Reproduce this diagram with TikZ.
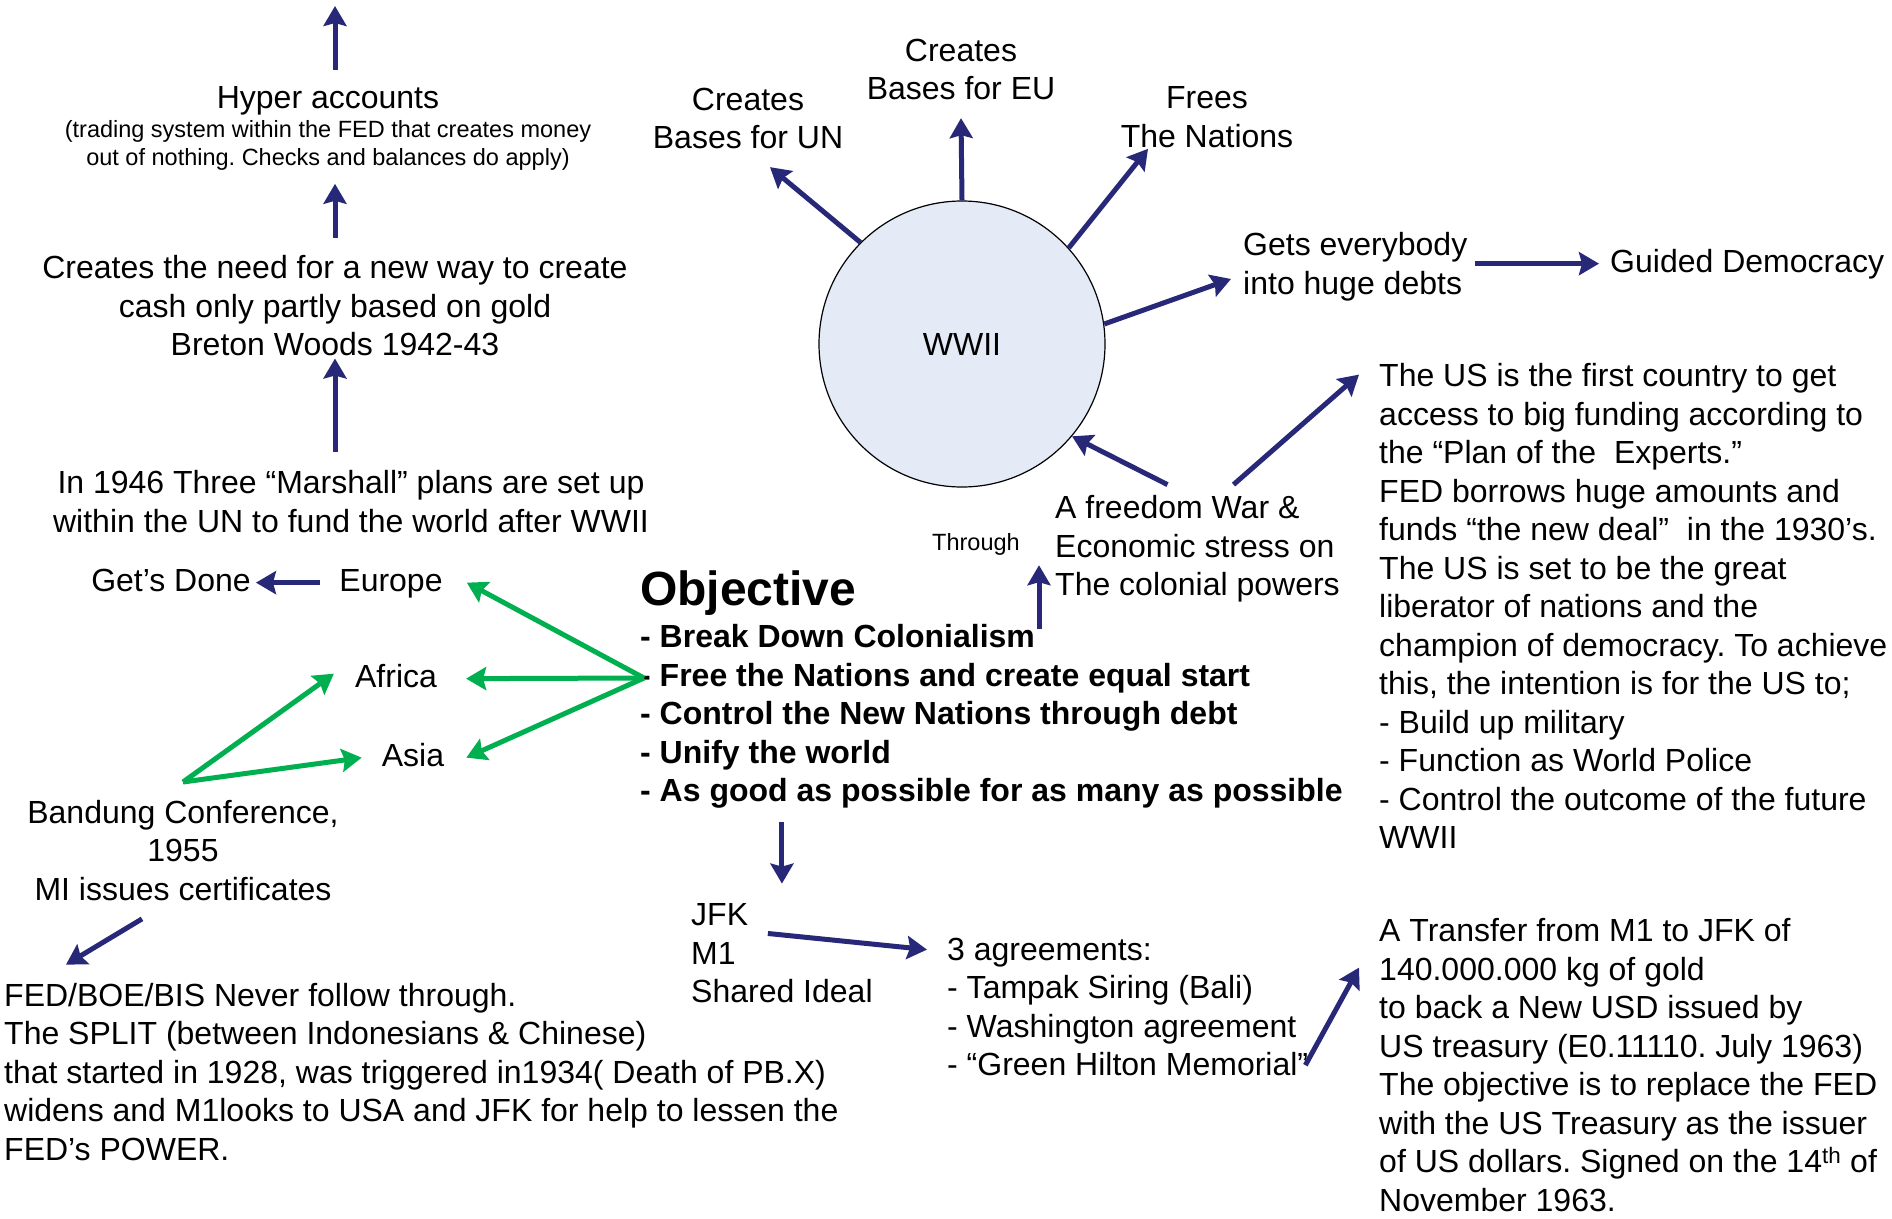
\documentclass[tikz,border=0pt]{standalone}
\usepackage{fontspec}
\setmainfont{Liberation Sans}
\usetikzlibrary{arrows.meta,calc,positioning}
\definecolor{navy}{RGB}{40,40,120}
\definecolor{grn}{RGB}{0,176,80}
\definecolor{wwfill}{RGB}{228,235,247}
\frenchspacing
\tikzset{
  txt/.style={inner sep=0pt,font=\fontsize{32}{38.5}\selectfont},
  lbl/.style={txt,text height=23.4pt,text depth=6.7pt},
  note/.style={inner sep=0pt,font=\fontsize{23.5}{28.5}\selectfont},
  arr/.style={->,draw=navy,line width=5pt},
  garr/.style={->,draw=grn,line width=5pt}
}
\begin{document}
\begin{tikzpicture}[x=1pt,y=-1pt,>={Stealth[length=20pt,width=23pt,inset=3pt]}]
    \useasboundingbox (0,0) rectangle (1892,1218);
    % left column
    \coordinate (topend) at (335,6);
    \node[txt,anchor=base] (hyper) at (328,108) {Hyper accounts};
    \node[note,anchor=north,align=center] (hypernote) at (328,120)
      {(trading system within the FED that creates money\\out of nothing. Checks and balances do apply)};
    \node[txt,anchor=north,align=center] (need) at (335,255.6)
      {Creates the need for a new way to create\\cash only partly based on gold\\Breton Woods 1942-43};
    \node[txt,anchor=north,align=center] (marshall) at (351,470.6)
      {In 1946 Three “Marshall” plans are set up\\within the UN to fund the world after WWII};
    \node[lbl,anchor=base] (done) at (171,591) {Get’s Done};
    \node[lbl,anchor=base] (europe) at (391,591) {Europe};
    \node[lbl,anchor=base] (africa) at (396,687) {Africa};
    \node[lbl,anchor=base] (asia) at (413,766) {Asia};
    \node[txt,anchor=north,align=center] (bandung) at (183,800)
      {Bandung Conference,\\1955\\MI issues certificates};
    \node[txt,anchor=north west,align=left] (fed) at (4,982.6)
      {FED/BOE/BIS Never follow through.\\The SPLIT (between Indonesians \& Chinese)\\that started in 1928, was triggered in1934( Death of PB.X)\\widens and M1looks to USA and JFK for help to lessen the\\FED’s POWER.};
    % WWII and its outcomes
    \node[circle,draw=black,line width=1.2pt,fill=wwfill,minimum size=286pt,inner sep=0pt,
      font=\fontsize{32}{38.5}\selectfont] (wwii) at (962,344) {WWII};
    \node[txt,anchor=north,align=center] (un) at (748,87.6) {Creates\\Bases for UN};
    \node[txt,anchor=north,align=center] (eu) at (961,38.6) {Creates\\Bases for EU};
    \node[txt,anchor=north,align=center] (frees) at (1207,86.6) {Frees\\The Nations};
    \node[txt,anchor=north west,align=left] (gets) at (1243,232.6) {Gets everybody\\into huge debts};
    \node[lbl,anchor=base west] (guided) at (1610,272) {Guided Democracy};
    \node[txt,anchor=north west,align=left] (free) at (1055,495.6)
      {A freedom War \&\\Economic stress on\\The colonial powers};
    \node[note,anchor=base] (through) at (976,550) {Through};
    \node[txt,anchor=north west,align=left] (us) at (1379,363.6)
      {The US is the first country to get\\access to big funding according to\\the “Plan of the\ \ Experts.”\\FED borrows huge amounts and\\funds “the new deal”\ \ in the 1930’s.\\The US is set to be the great\\liberator of nations and the\\champion of democracy. To achieve\\this, the intention is for the US to;\\- Build up military\\- Function as World Police\\- Control the outcome of the future\\WWII};
    % objective
    \node[inner sep=0pt,anchor=base west,font=\fontsize{48}{56}\selectfont\bfseries] (obj) at (640,605) {Objective};
    \node[txt,anchor=north west,align=left,font=\fontsize{32}{38.5}\selectfont\bfseries] (goals) at (640,624.6)
      {- Break Down Colonialism\\- Free the Nations and create equal start\\- Control the New Nations through debt\\- Unify the world\\- As good as possible for as many as possible};
    \node[txt,anchor=north west,align=left] (jfk) at (691,903.6) {JFK\\M1\\Shared Ideal};
    \node[txt,anchor=north west,align=left] (agr) at (947,937.6)
      {3 agreements:\\- Tampak Siring (Bali)\\- Washington agreement\\- “Green Hilton Memorial”};
    \node[txt,anchor=north west,align=left] (tr) at (1379,918.6)
      {A Transfer from M1 to JFK of\\140.000.000 kg of gold\\to back a New USD issued by\\US treasury (E0.11110. July 1963)\\The objective is to replace the FED\\with the US Treasury as the issuer\\of US dollars. Signed on the 14\textsuperscript{th} of\\November 1963.};
    % navy connectors
    \draw[arr,shorten <=16pt] (topend |- hyper.north) -- (topend);
    \draw[arr,shorten <=18pt,shorten >=13pt] (topend |- need.north) -- (topend |- hypernote.south);
    \draw[arr,shorten <=19pt,shorten >=2pt] (topend |- marshall.north) -- (topend |- need.south);
    \draw[arr] ([xshift=-19pt]europe.west) -- ([xshift=5pt]done.east);
    \draw[arr] ([xshift=-41pt,yshift=-18pt]bandung.south) -- ([xshift=62pt,yshift=18pt]fed.north west);
    \draw[arr] (wwii.135) -- ([xshift=22pt,yshift=-18pt]un.south);
    \draw[arr] (wwii.90) -- ([yshift=-18pt]eu.south);
    \draw[arr] (wwii.42) -- ([xshift=-59pt,yshift=-1pt]frees.south);
    \draw[arr] (wwii.8) -- ([xshift=-12pt,yshift=-12pt]gets.west);
    \draw[arr,shorten <=7pt,shorten >=11pt] (gets.east |- guided.west) -- (guided.west);
    \draw[arr] ([xshift=-30pt,yshift=11pt]free.north) -- (wwii.-40);
    \draw[arr] ([xshift=36pt,yshift=11pt]free.north) -- ([xshift=-20pt,yshift=-11pt]us.north west);
    \coordinate (thr) at (1039,629);
    \draw[arr,shorten >=16pt] (thr) -- (thr |- free.west);
    \draw[arr,shorten <=13pt] (jfk.north |- goals.south) -- ([yshift=20pt]jfk.north);
    \draw[arr] ([xshift=-105pt,yshift=20pt]jfk.east) -- ([xshift=-20pt,yshift=-12pt]agr.north west);
    \draw[arr] ([xshift=-3pt,yshift=11pt]agr.south east) -- ([xshift=-20pt,yshift=-49pt]tr.north west);
    % green connectors
    \coordinate (gsrc) at (644,678);
    \draw[garr] (gsrc) -- ([xshift=24pt]europe.east);
    \draw[garr] (gsrc) -- ([xshift=29pt]africa.east);
    \draw[garr] (gsrc) -- ([xshift=22pt]asia.east);
    \draw[garr] ([yshift=18pt]bandung.north) -- ([xshift=-21pt,yshift=5pt]africa.west);
    \draw[garr] ([yshift=18pt]bandung.north) -- ([xshift=-20pt]asia.west);
\end{tikzpicture}
\end{document}
